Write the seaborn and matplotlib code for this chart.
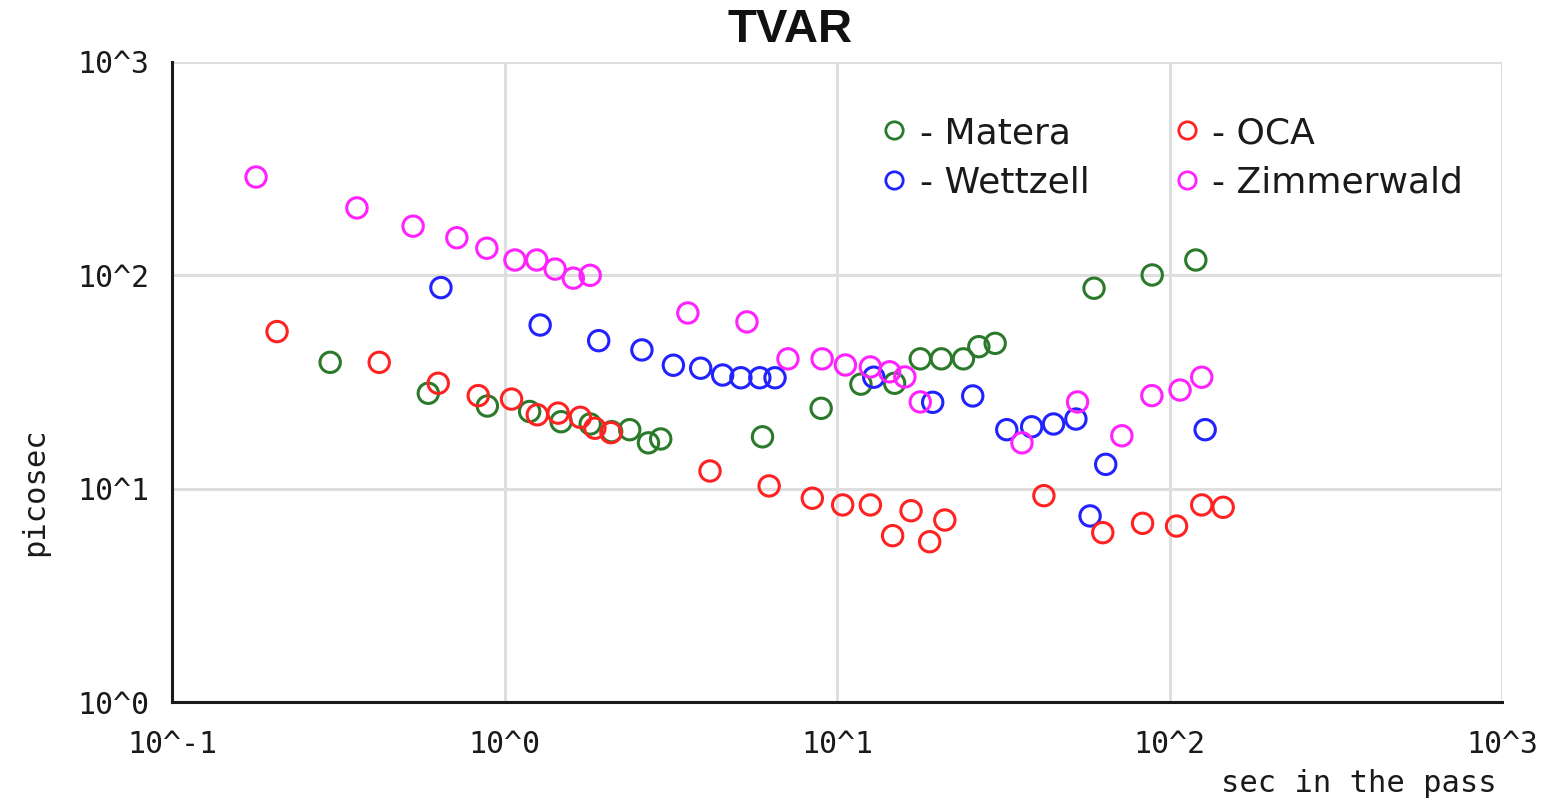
import numpy as np
import pandas as pd
import matplotlib
matplotlib.use("Agg")
import matplotlib.pyplot as plt
from matplotlib.lines import Line2D
from matplotlib.ticker import LogLocator, NullFormatter
import seaborn as sns

# ---- data ----
matera_x = [0.299, 0.590, 0.888, 1.19, 1.48, 1.81, 2.10, 2.38, 2.71, 2.95, 5.97, 8.96,
            11.8, 14.9, 17.8, 20.6, 24.0, 26.7, 29.9, 59.3, 88.7, 120]
matera_y = [39.1, 28.0, 24.4, 23.0, 20.6, 20.1, 18.5, 18.9, 16.4, 17.1, 17.5, 23.8,
            30.9, 31.2, 40.6, 40.6, 40.6, 46.3, 48.0, 87.0, 100.4, 118]

wettzell_x = [0.644, 1.28, 1.92, 2.59, 3.22, 3.89, 4.53, 5.14, 5.86, 6.51, 12.9, 19.4,
              25.6, 32.4, 38.5, 44.8, 52.3, 64.3, 57.7, 128]
wettzell_y = [87.6, 58.5, 49.4, 44.7, 37.9, 36.7, 34.1, 33.1, 33.1, 33.1, 33.3, 25.4,
              27.2, 18.9, 19.5, 20.1, 21.2, 13.0, 7.45, 18.9]

oca_x = [0.207, 0.420, 0.632, 0.834, 1.05, 1.255, 1.45, 1.69, 1.87, 2.09, 4.15, 6.25,
         8.43, 10.4, 12.6, 14.7, 16.7, 19.0, 21.1, 41.9, 63.0, 83.0, 105, 125, 145]
oca_y = [54.5, 39.1, 31.2, 27.3, 26.3, 22.2, 22.6, 21.6, 19.2, 18.3, 12.1, 10.3,
         9.02, 8.39, 8.39, 6.02, 7.88, 5.64, 7.13, 9.27, 6.22, 6.88, 6.68, 8.39, 8.18]

zimmer_x = [0.179, 0.36, 0.531, 0.719, 0.885, 1.075, 1.25, 1.42, 1.61, 1.81, 3.56, 5.36,
            7.12, 9.02, 10.6, 12.6, 14.4, 16.0, 17.8, 36.0, 52.9, 71.9, 88.5, 107.6, 125]
zimmer_y = [289, 207, 170, 150, 134, 118, 118, 107, 97, 100, 66.6, 60.5,
            40.6, 40.6, 38.0, 37.2, 35.3, 33.4, 25.5, 16.4, 25.5, 17.7, 27.3, 29.0, 33.3]

stations = ["Matera", "Wettzell", "OCA", "Zimmerwald"]
colors = ["#2b7a2b", "#2222ff", "#ff2222", "#ff22ff"]
major_ticks = [0.1, 1, 10, 100, 1000]
x_tick_labels = ["10^-1", "10^0", "10^1", "10^2", "10^3"]
y_major_ticks = [1, 10, 100, 1000]
y_tick_labels = ["10^0", "10^1", "10^2", "10^3"]

df = pd.concat([
    pd.DataFrame({"x": matera_x, "y": matera_y, "station": "Matera"}),
    pd.DataFrame({"x": wettzell_x, "y": wettzell_y, "station": "Wettzell"}),
    pd.DataFrame({"x": oca_x, "y": oca_y, "station": "OCA"}),
    pd.DataFrame({"x": zimmer_x, "y": zimmer_y, "station": "Zimmerwald"}),
], ignore_index=True)

sns.set_style("white")
mono = "DejaVu Sans Mono"

fig = plt.figure(figsize=(15.53, 8.0), dpi=100)
ax = fig.add_axes([172 / 1553, 98 / 800, (1502 - 172) / 1553, (702 - 62) / 800])

for st, col in zip(stations, colors):
    sub = df[df.station == st]
    sns.scatterplot(data=sub, x="x", y="y", ax=ax, color=col, s=215, marker="o",
                    legend=False, zorder=3)
    coll = ax.collections[-1]
    coll.set_facecolor("none")
    coll.set_edgecolor(col)
    coll.set_linewidth(2.2)

ax.set_xscale("log")
ax.set_yscale("log")
ax.set_xlim(0.1, 1000)
ax.set_ylim(1, 1000)

ax.set_xticks(major_ticks)
ax.set_xticklabels(x_tick_labels)
ax.set_yticks(y_major_ticks)
ax.set_yticklabels(y_tick_labels)
ax.xaxis.set_minor_locator(LogLocator(base=10, subs=np.arange(2, 10)))
ax.yaxis.set_minor_locator(LogLocator(base=10, subs=np.arange(2, 10)))
ax.xaxis.set_minor_formatter(NullFormatter())
ax.yaxis.set_minor_formatter(NullFormatter())

ax.grid(True, which="major", color="#dedede", linewidth=2.2, zorder=0)
ax.set_axisbelow(True)
for sp in ["top", "right"]:
    ax.spines[sp].set_visible(False)
for sp in ["left", "bottom"]:
    ax.spines[sp].set_color("#1a1a1a")
    ax.spines[sp].set_linewidth(2.2)

ax.tick_params(which="major", direction="in", length=12, width=1.8, color="#1a1a1a",
               labelsize=21.5, pad=20)
ax.tick_params(which="minor", direction="in", length=7, width=1.5, color="#1a1a1a")
ax.tick_params(axis="y", which="major", pad=16)
for lab in ax.get_xticklabels() + ax.get_yticklabels():
    lab.set_family(mono)
    lab.set_color("#1a1a1a")

ax.set_xlabel("")
ax.set_ylabel("")
fig.text(1497 / 1553, 1 - 783 / 800, "sec in the pass", ha="right", va="center",
         family=mono, fontsize=22, color="#1a1a1a")
fig.text(35 / 1553, 1 - 492 / 800, "picosec", ha="center", va="center", rotation=90,
         family=mono, fontsize=22, color="#1a1a1a")
fig.text(790 / 1553, 1 - 30 / 800, "TVAR", ha="center", va="center",
         fontsize=34, fontweight="bold", family="Liberation Sans", color="#111111")

handles = [Line2D([], [], linestyle="none", marker="o", markersize=12.5,
                  markerfacecolor="none", markeredgecolor=c, markeredgewidth=2.0)
           for c in colors]
labels = ["- " + s for s in stations]
leg = ax.legend(handles, labels, ncol=2, frameon=False, loc="upper left",
                bbox_to_anchor=(862 / 1553, 1 - 98 / 800), bbox_transform=fig.transFigure,
                fontsize=26, handlelength=0.8, handletextpad=0.3, columnspacing=2.3,
                labelspacing=0.42, borderpad=0.0)
for t in leg.get_texts():
    t.set_family("DejaVu Sans")
    t.set_color("#1a1a1a")

fig.savefig("out.png", dpi=100)
